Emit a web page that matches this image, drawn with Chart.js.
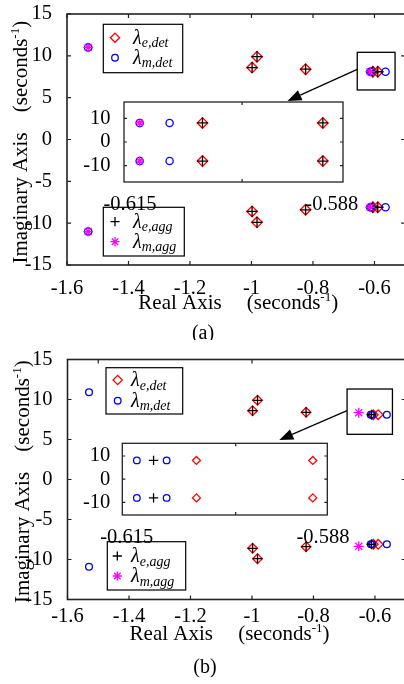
<!DOCTYPE html>
<html>
<head>
<meta charset="utf-8">
<script src="https://cdn.jsdelivr.net/npm/chart.js@4.4.1/dist/chart.umd.min.js"></script>
<style>
html, body { margin: 0; padding: 0; overflow: hidden; background: #fff; }
body { width: 404px; height: 684px; position: relative; }
canvas { position: absolute; }
</style>
</head>
<body>
<canvas id="mainA" width="412" height="340" style="left:0;top:0;width:412px;height:340px"></canvas>
<canvas id="insetA" width="290" height="125" style="left:80px;top:92px;width:290px;height:125px"></canvas>
<canvas id="mainB" width="412" height="344" style="left:0;top:340px;width:412px;height:344px"></canvas>
<canvas id="insetB" width="280" height="120" style="left:78px;top:433px;width:280px;height:120px"></canvas>
<script>
const SERIF = "'Liberation Serif', 'Times New Roman', serif";

// tick labels
const xTicks = [-1.6, -1.4, -1.2, -1, -0.8, -0.6];
const yTicks = [15, 10, 5, 0, -5, -10, -15];
const topTicksB = [-1.5, -1, -0.5];
const rightTicks = [10, 0, -10];
const insetXTicks = [-0.615, -0.6, -0.588];
const insetXLabels = ['-0.615', '', '-0.588'];
const insetYTicks = [10, 0, -10];

const seriesNames = ['e,det', 'm,det', 'e,agg', 'm,agg'];

// (a) eigenvalues: real and imaginary parts
const aEdetRe = [-0.998, -0.998, -0.982, -0.982, -0.824, -0.824, -0.6053, -0.6053, -0.5892, -0.5892];
const aEdetIm = [8.6, -8.6, 9.9, -9.9, 8.4, -8.4, 8.1, -8.1, 8.1, -8.1];
const aMdetRe = [-1.531, -1.531, -0.6137, -0.6137, -0.6097, -0.6097, -0.564, -0.564];
const aMdetIm = [11, -11, 8.1, -8.1, 8.1, -8.1, 8.1, -8.1];
const aEaggRe = [-0.998, -0.998, -0.982, -0.982, -0.824, -0.824, -0.6053, -0.6053, -0.5892, -0.5892];
const aEaggIm = [8.6, -8.6, 9.9, -9.9, 8.4, -8.4, 8.1, -8.1, 8.1, -8.1];
const aMaggRe = [-1.531, -1.531, -0.6137, -0.6137];
const aMaggIm = [11, -11, 8.1, -8.1];

// (b) eigenvalues
const bEdetRe = [-0.998, -0.998, -0.982, -0.982, -0.824, -0.824, -0.6054, -0.6054, -0.5894, -0.5894];
const bEdetIm = [8.6, -8.6, 9.9, -9.9, 8.4, -8.4, 8.1, -8.1, 8.1, -8.1];
const bMdetRe = [-1.53, -1.53, -0.6136, -0.6136, -0.6095, -0.6095, -0.5613, -0.5613];
const bMdetIm = [10.9, -10.9, 8.1, -8.1, 8.1, -8.1, 8.1, -8.1];
const bEaggRe = [-0.998, -0.998, -0.982, -0.982, -0.824, -0.824, -0.6113, -0.6113];
const bEaggIm = [8.6, -8.6, 9.9, -9.9, 8.4, -8.4, 8.1, -8.1];
const bMaggRe = [-0.6527, -0.6527];
const bMaggIm = [8.35, -8.35];

const seriesStyle = [
    { pointStyle: 'rectRot', color: '#ff0000', order: 4 },
    { pointStyle: 'circle', color: '#0000ff', order: 3 },
    { pointStyle: 'cross', color: '#000000', order: 2 },
    { pointStyle: 'star', color: '#ff00ff', order: 1 }
];
const legendRadii = [4.6, 3.3, 4.6, 4.6];
const TICK_SIZE = 20.5;

Chart.defaults.font.family = SERIF;
Chart.defaults.color = '#000';

const pts = (re, im) => re.map((x, i) => ({ x: x, y: im[i] }));

function buildDatasets(series, radii) {
    return series.map((s, i) => ({
        label: seriesNames[i],
        data: pts(s[0], s[1]),
        pointStyle: seriesStyle[i].pointStyle,
        pointBorderColor: seriesStyle[i].color,
        pointBackgroundColor: 'rgba(0,0,0,0)',
        borderColor: seriesStyle[i].color,
        backgroundColor: 'rgba(0,0,0,0)',
        pointRadius: radii[i],
        pointBorderWidth: 1.3,
        order: seriesStyle[i].order
    }));
}

function axis(pos, min, max, ticks, labels, pad, fit) {
    return {
        type: 'linear', position: pos, min: min, max: max,
        afterBuildTicks: s => { s.ticks = ticks.map(v => ({ value: v })); },
        afterFit: s => {
            // fixed box size, no extra room for end labels
            if (pos === 'left') s.width = fit; else s.height = fit;
            s.paddingTop = 0; s.paddingBottom = 0; s.paddingLeft = 0; s.paddingRight = 0;
        },
        ticks: {
            callback: (v, i) => labels[i],
            font: { family: SERIF, size: TICK_SIZE }, color: '#000',
            padding: pad, maxRotation: 0, autoSkip: false
        },
        grid: { display: false },
        border: { display: false }
    };
}

function font(p) { return (p.it ? 'italic ' : '') + p.s + 'px ' + SERIF; }

function drawRich(ctx, parts, x, y, align) {
    let w = 0;
    const widths = parts.map(p => { ctx.font = font(p); const m = ctx.measureText(p.t).width; w += m; return m; });
    let cx = align === 'center' ? x - w / 2 : x;
    ctx.textAlign = 'left';
    ctx.textBaseline = 'alphabetic';
    parts.forEach((p, i) => { ctx.font = font(p); ctx.fillText(p.t, cx, y + (p.dy || 0)); cx += widths[i]; });
}

function drawMarker(ctx, style, color, x, y, r) {
    ctx.save();
    ctx.strokeStyle = color;
    ctx.lineWidth = 1.3;
    ctx.beginPath();
    if (style === 'circle') {
        ctx.arc(x, y, r, 0, Math.PI * 2);
    } else if (style === 'rectRot') {
        ctx.moveTo(x - r, y); ctx.lineTo(x, y - r); ctx.lineTo(x + r, y); ctx.lineTo(x, y + r); ctx.closePath();
    } else {
        ctx.moveTo(x - r, y); ctx.lineTo(x + r, y); ctx.moveTo(x, y - r); ctx.lineTo(x, y + r);
        if (style === 'star') {
            const d = r * Math.SQRT1_2;
            ctx.moveTo(x - d, y - d); ctx.lineTo(x + d, y + d); ctx.moveTo(x - d, y + d); ctx.lineTo(x + d, y - d);
        }
    }
    ctx.stroke();
    ctx.restore();
}

const realParts = [{ t: 'Real Axis', s: 21 }];
const imagParts = [{ t: 'Imaginary Axis', s: 21 }];
const secParts = [{ t: '(seconds', s: 21 }, { t: '-1', s: 13, dy: -8 }, { t: ')', s: 21 }];

function decor(cfg) {
    return {
        id: 'decor',
        beforeDraw(chart) {
            if (!cfg.fill) return;
            const a = chart.chartArea;
            chart.ctx.save();
            chart.ctx.fillStyle = '#fff';
            chart.ctx.fillRect(a.left, a.top, a.right - a.left, a.bottom - a.top);
            chart.ctx.restore();
        },
        afterDraw(chart) {
            const ctx = chart.ctx, a = chart.chartArea, xs = chart.scales.x, ys = chart.scales.y;
            const L = cfg.tickLen;
            ctx.save();
            ctx.strokeStyle = '#222';
            ctx.lineWidth = cfg.boxWidth;
            ctx.strokeRect(a.left, a.top, a.right - a.left, a.bottom - a.top);
            ctx.beginPath();
            cfg.bottomTicks.forEach(v => { const p = xs.getPixelForValue(v); ctx.moveTo(p, a.bottom); ctx.lineTo(p, a.bottom - L); });
            cfg.topTicks.forEach(v => { const p = xs.getPixelForValue(v); ctx.moveTo(p, a.top); ctx.lineTo(p, a.top + L); });
            cfg.leftTicks.forEach(v => { const p = ys.getPixelForValue(v); ctx.moveTo(a.left, p); ctx.lineTo(a.left + L, p); });
            cfg.rightTicks.forEach(v => { const p = ys.getPixelForValue(v); ctx.moveTo(a.right, p); ctx.lineTo(a.right - L, p); });
            ctx.lineWidth = 1.2;
            ctx.stroke();

            (cfg.legends || []).forEach(lg => {
                const [x1, y1, x2, y2] = lg.box;
                ctx.fillStyle = '#fff';
                ctx.fillRect(x1, y1, x2 - x1, y2 - y1);
                ctx.strokeStyle = '#000';
                ctx.lineWidth = 1.2;
                ctx.strokeRect(x1, y1, x2 - x1, y2 - y1);
                lg.items.forEach((si, k) => {
                    const y = lg.rows[k];
                    drawMarker(ctx, seriesStyle[si].pointStyle, seriesStyle[si].color, lg.mx, y, legendRadii[si]);
                    ctx.fillStyle = '#000';
                    drawRich(ctx, [{ t: 'λ', s: 20, it: true }, { t: seriesNames[si], s: 14, it: true, dy: 3.5 }], lg.tx, y + 6, 'left');
                });
            });

            if (cfg.zoom) {
                const z = cfg.zoom;
                const X1 = xs.getPixelForValue(z.x1), X2 = xs.getPixelForValue(z.x2);
                const Y1 = ys.getPixelForValue(z.y1), Y2 = ys.getPixelForValue(z.y2);
                ctx.strokeStyle = '#000';
                ctx.lineWidth = 1.3;
                ctx.strokeRect(X1, Y1, X2 - X1, Y2 - Y1);
                const sx = X1, sy = ys.getPixelForValue(z.ay);
                const [tx, ty] = z.tip;
                const ang = Math.atan2(ty - sy, tx - sx);
                const hl = 14, hw = 5.5;
                const bx = tx - hl * Math.cos(ang), by = ty - hl * Math.sin(ang);
                ctx.beginPath();
                ctx.moveTo(sx, sy);
                ctx.lineTo(bx, by);
                ctx.stroke();
                ctx.beginPath();
                ctx.moveTo(tx, ty);
                ctx.lineTo(bx + hw * Math.sin(ang), by - hw * Math.cos(ang));
                ctx.lineTo(bx - hw * Math.sin(ang), by + hw * Math.cos(ang));
                ctx.closePath();
                ctx.fillStyle = '#000';
                ctx.fill();
            }

            ctx.fillStyle = '#000';
            if (cfg.xTitle) {
                drawRich(ctx, realParts, cfg.xTitle.real, cfg.xTitle.y, 'center');
                drawRich(ctx, secParts, cfg.xTitle.sec, cfg.xTitle.y, 'center');
            }
            if (cfg.yTitle) {
                [[imagParts, cfg.yTitle.imag], [secParts, cfg.yTitle.sec]].forEach(([parts, cy]) => {
                    ctx.save();
                    ctx.translate(cfg.yTitle.x, cy);
                    ctx.rotate(-Math.PI / 2);
                    drawRich(ctx, parts, 0, 0, 'center');
                    ctx.restore();
                });
            }
            if (cfg.caption) {
                ctx.font = '20px ' + SERIF;
                ctx.textAlign = 'center';
                ctx.textBaseline = 'middle';
                ctx.fillText(cfg.caption.t, cfg.caption.x, cfg.caption.y);
            }
            ctx.restore();
        }
    };
}

function makeChart(id, series, c) {
    return new Chart(document.getElementById(id), {
        type: 'scatter',
        data: { datasets: buildDatasets(series, c.radii) },
        options: {
            responsive: false,
            animation: false,
            events: [],
            layout: { padding: c.padding },
            plugins: { legend: { display: false }, tooltip: { enabled: false }, title: { display: false } },
            scales: { x: c.x, y: c.y }
        },
        plugins: [decor(c.decor)]
    });
}

const xLabels = xTicks.map(String);
const yLabels = yTicks.map(String);
const insetYLabels = insetYTicks.map(String);

const seriesA = [[aEdetRe, aEdetIm], [aMdetRe, aMdetIm], [aEaggRe, aEaggIm], [aMaggRe, aMaggIm]];
const seriesB = [[bEdetRe, bEdetIm], [bMdetRe, bMdetIm], [bEaggRe, bEaggIm], [bMaggRe, bMaggIm]];

makeChart('mainA', seriesA, {
    radii: [5.3, 3.7, 5.5, 4.8],
    padding: { left: 0, top: 14, right: 4.4, bottom: 0 },
    x: axis('bottom', -1.6, -0.5, xTicks, xLabels, 3, 75),
    y: axis('left', -15, 15, yTicks, yLabels, 7, 67),
    decor: {
        boxWidth: 1.6, tickLen: 4,
        bottomTicks: xTicks, topTicks: xTicks, leftTicks: yTicks, rightTicks: rightTicks,
        legends: [
            { box: [103.3, 24.3, 182.7, 72.7], rows: [37.7, 57.7], items: [0, 1], mx: 115, tx: 133 },
            { box: [103.3, 207.3, 184.3, 256], rows: [221.7, 241.7], items: [2, 3], mx: 115, tx: 133 }
        ],
        zoom: { x1: -0.656, x2: -0.533, y1: 10.42, y2: 5.92, ay: 8.39, tip: [287.5, 101] },
        xTitle: { y: 309, real: 180, sec: 292.5 },
        yTitle: { x: 27.3, imag: 198, sec: 66.5 },
        caption: { t: '(a)', x: 203, y: 334 }
    }
});

makeChart('insetA', seriesA, {
    radii: [5.3, 3.6, 5.3, 4.5],
    padding: { left: 0, top: 10, right: 27, bottom: 0 },
    x: axis('bottom', -0.6158, -0.5865, insetXTicks, insetXLabels, 2, 35),
    y: axis('left', -17, 17, insetYTicks, insetYLabels, 5.5, 44),
    decor: {
        fill: true, boxWidth: 1.3, tickLen: 3,
        bottomTicks: [-0.6], topTicks: [-0.6], leftTicks: insetYTicks, rightTicks: insetYTicks
    }
});

makeChart('mainB', seriesB, {
    radii: [4.8, 3.4, 5, 5],
    padding: { left: 0, top: 19.5, right: 6, bottom: 0 },
    x: axis('bottom', -1.6, -0.5, xTicks, xLabels, -3, 84.5),
    y: axis('left', -15, 15, yTicks, yLabels, 7, 67.5),
    decor: {
        boxWidth: 1.6, tickLen: 4,
        bottomTicks: xTicks, topTicks: topTicksB, leftTicks: yTicks, rightTicks: rightTicks,
        legends: [
            { box: [106, 27.7, 182.7, 74], rows: [40, 60.7], items: [0, 1], mx: 117.7, tx: 131 },
            { box: [107.3, 201.7, 185.7, 250], rows: [216, 236], items: [2, 3], mx: 117.3, tx: 131 }
        ],
        zoom: { x1: -0.6907, x2: -0.5431, y1: 11.31, y2: 5.65, ay: 8.6, tip: [279.3, 100] },
        xTitle: { y: 300, real: 171.3, sec: 283.8 },
        yTitle: { x: 29, imag: 197.5, sec: 66 },
        caption: { t: '(b)', x: 205, y: 328 }
    }
});

makeChart('insetB', seriesB, {
    radii: [4, 3.3, 4.7, 4.5],
    padding: { left: 0, top: 10.3, right: 30.7, bottom: 0 },
    x: axis('bottom', -0.6156, -0.5874, insetXTicks, insetXLabels, 2.5, 38),
    y: axis('left', -15.5, 15.5, insetYTicks, insetYLabels, 4, 44.3),
    decor: {
        fill: true, boxWidth: 1.3, tickLen: 3,
        bottomTicks: [-0.6], topTicks: [-0.6], leftTicks: insetYTicks, rightTicks: insetYTicks
    }
});
</script>
</body>
</html>
